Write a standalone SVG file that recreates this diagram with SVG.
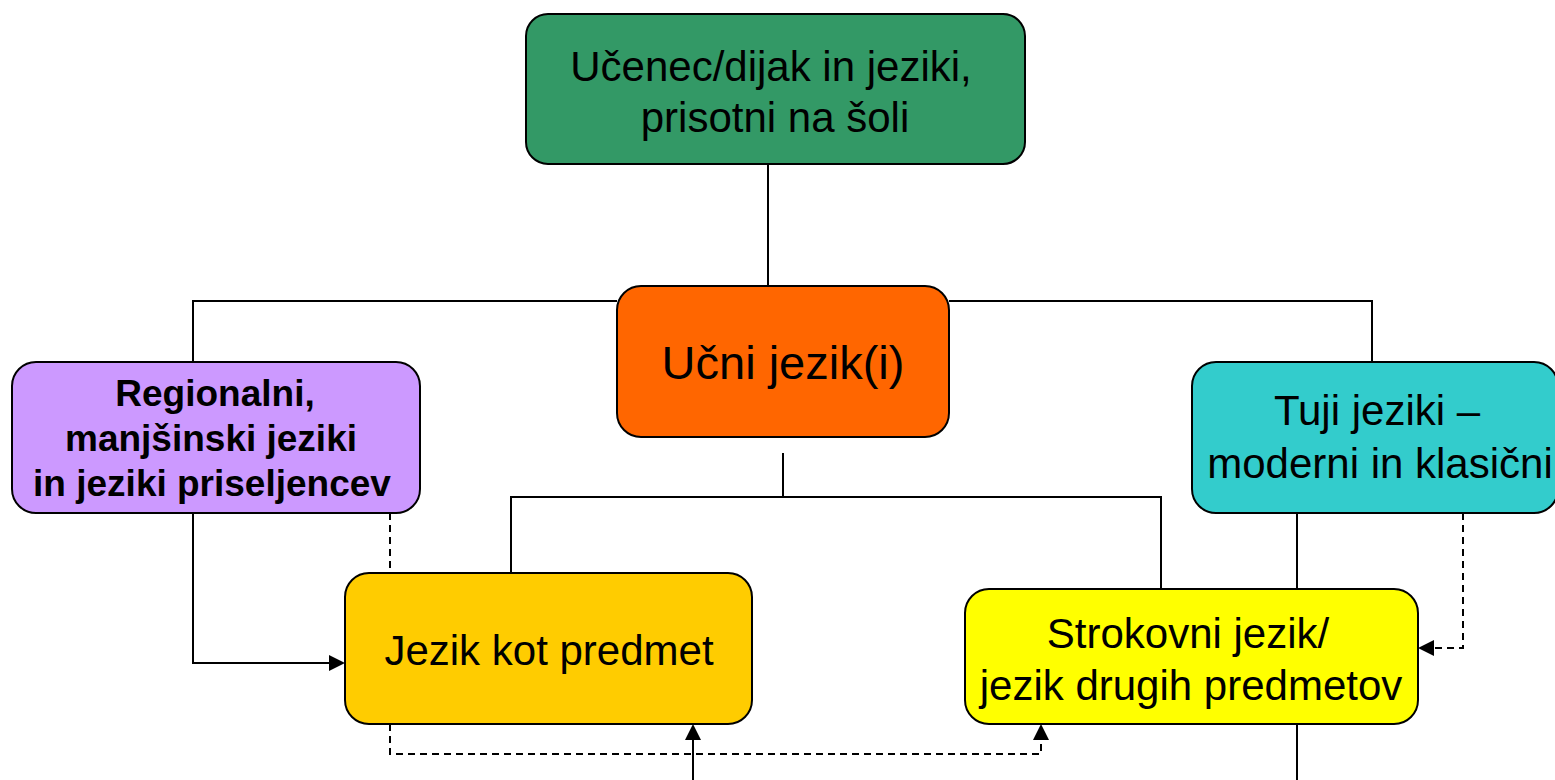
<svg xmlns="http://www.w3.org/2000/svg" width="1555" height="780" viewBox="0 0 1555 780">
<style>
.box{stroke:#000;stroke-width:2}
.t{font-family:"Liberation Sans",Arial,sans-serif;font-size:42px;fill:#000;text-anchor:middle}
.b{font-weight:bold;font-size:37px}
.ln{fill:none;stroke:#000;stroke-width:2}
.d{stroke-dasharray:7 5}
.ah{fill:#000}
</style>
<g id="connectors">
<path class="ln" d="M768,164 V286"/>
<path class="ln" d="M193,362 V301 H617"/>
<path class="ln" d="M949,301 H1372 V362"/>
<path class="ln" d="M783,453 V497"/>
<path class="ln" d="M511,573 V497 H1161 V589"/>
<path class="ln" d="M193,513 V663 H330"/>
<path class="ah" d="M329,655 L345,663 L329,671 z"/>
<path class="ln d" d="M390,513 V573"/>
<path class="ln d" d="M390,724 V754 H1041 V739"/>
<path class="ah" d="M1033,740 L1041,724 L1049,740 z"/>
<path class="ln" d="M693,780 V739"/>
<path class="ah" d="M685,740 L693,724 L701,740 z"/>
<path class="ln" d="M1297,513 V589"/>
<path class="ln d" d="M1463,513 V648 H1433"/>
<path class="ah" d="M1434,640 L1418,648 L1434,656 z"/>
<path class="ln" d="M1297,724 V780"/>
</g>
<g id="n-student">
<rect class="box" x="526" y="14" width="499" height="150" rx="22" fill="#339966"/>
<text class="t" x="771" y="81">Učenec/dijak in jeziki,</text>
<text class="t" x="775" y="132">prisotni na šoli</text>
</g>
<g id="n-ucni">
<rect class="box" x="617" y="286" width="332" height="151" rx="24" fill="#FF6600"/>
<text class="t" x="783" y="379" style="font-size:47px">Učni jezik(i)</text>
</g>
<g id="n-regional">
<rect class="box" x="12" y="362" width="408" height="151" rx="24" fill="#CC99FF"/>
<text class="t b" x="215" y="406">Regionalni,</text>
<text class="t b" x="211" y="451">manjšinski jeziki</text>
<text class="t b" x="212" y="496">in jeziki priseljencev</text>
</g>
<g id="n-tuji">
<rect class="box" x="1192" y="362" width="366" height="151" rx="24" fill="#33CCCC"/>
<text class="t" x="1377" y="425">Tuji jeziki –</text>
<text class="t" x="1380" y="478">moderni in klasični</text>
</g>
<g id="n-predmet">
<rect class="box" x="345" y="573" width="407" height="151" rx="24" fill="#FFCC00"/>
<text class="t" x="549" y="665">Jezik kot predmet</text>
</g>
<g id="n-strokovni">
<rect class="box" x="965" y="589" width="453" height="135" rx="24" fill="#FFFF00"/>
<text class="t" x="1188" y="648">Strokovni jezik/</text>
<text class="t" x="1191" y="700">jezik drugih predmetov</text>
</g>
</svg>
